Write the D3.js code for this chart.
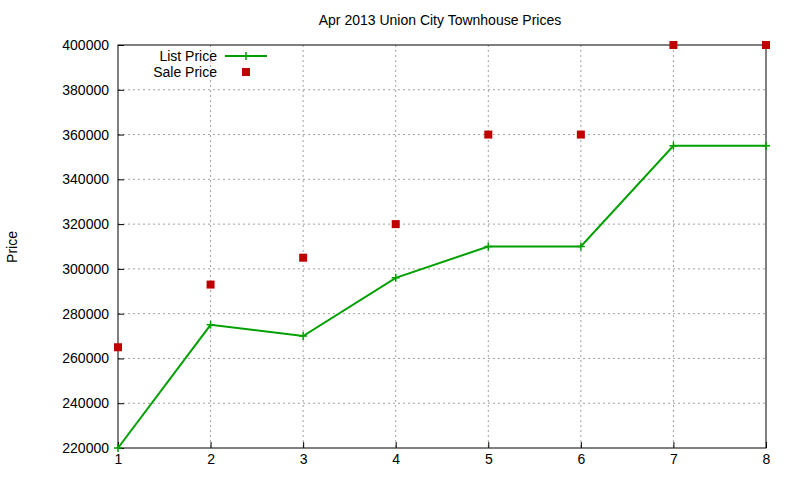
<!DOCTYPE html>
<html>
<head>
<script src="https://d3js.org/d3.v7.min.js"></script>
<style>
body { margin: 0; background: #fff; font-family: "Liberation Sans", Arial, sans-serif; }
</style>
</head>
<body>
<script>
var months = [1, 2, 3, 4, 5, 6, 7, 8];
var listPrice = [220000, 275000, 270000, 296000, 310000, 310000, 355000, 355000];
var salePrice = [265000, 293000, 305000, 320000, 360000, 360000, 400000, 400000];
var yTicks = [220000, 240000, 260000, 280000, 300000, 320000, 340000, 360000, 380000, 400000];

var w = 800, h = 480;
var padL = 118, padR = 766, padT = 45, padB = 448;

var svg = d3.select("body").append("svg").attr("width", w).attr("height", h);

var x = d3.scaleLinear().domain([1, 8]).range([padL, padR]);
var y = d3.scaleLinear().domain([220000, 400000]).range([padB, padT]);

// grid
svg.selectAll(".gx").data(months.slice(1, -1)).enter().append("line")
	.attr("x1", d => x(d)).attr("x2", d => x(d)).attr("y1", padT).attr("y2", padB)
	.attr("stroke", "#a0a0a0").attr("stroke-dasharray", "2,3");
svg.selectAll(".gy").data(yTicks.slice(1, -1)).enter().append("line")
	.attr("x1", padL).attr("x2", padR).attr("y1", d => y(d)).attr("y2", d => y(d))
	.attr("stroke", "#a0a0a0").attr("stroke-dasharray", "2,3");

// axes
var xAxis = d3.axisBottom(x).tickValues(months).tickFormat(d3.format("d")).tickSize(-6).tickSizeOuter(0);
var yAxis = d3.axisLeft(y).tickValues(yTicks).tickFormat(d3.format("d")).tickSize(-6).tickSizeOuter(0);
var gx = svg.append("g").attr("transform", "translate(0," + padB + ")").call(xAxis);
var gy = svg.append("g").attr("transform", "translate(" + padL + ",0)").call(yAxis);
[gx, gy].forEach(function(g) {
	g.select(".domain").remove();
	g.selectAll("line").attr("stroke", "#000");
	g.selectAll("text").attr("font-size", 14).attr("font-family", "Liberation Sans, Arial, sans-serif").attr("fill", "#000");
});
gx.selectAll("text").attr("y", 6).attr("dy", "0.71em");
gy.selectAll("text").attr("x", -9);

svg.append("rect").attr("x", padL).attr("y", padT).attr("width", padR - padL).attr("height", padB - padT)
	.attr("fill", "none").attr("stroke", "#000");

// list line
var line = d3.line().x((d, i) => x(months[i])).y(d => y(d));
svg.append("path").datum(listPrice).attr("d", line).attr("fill", "none").attr("stroke", "#00a000").attr("stroke-width", 2);
function plus(g, cx, cy) {
	g.append("path").attr("d", "M" + (cx - 4) + "," + cy + "h8M" + cx + "," + (cy - 4) + "v8")
		.attr("stroke", "#00a000").attr("stroke-width", 1.5);
}
listPrice.forEach((d, i) => plus(svg, x(months[i]), y(d)));

svg.selectAll(".sale").data(salePrice).enter().append("rect")
	.attr("x", (d, i) => x(months[i]) - 4).attr("y", d => y(d) - 4)
	.attr("width", 8).attr("height", 8).attr("fill", "#c00000");

// legend
svg.append("text").attr("x", 217).attr("y", 61).attr("text-anchor", "end").attr("font-size", 14).text("List Price");
svg.append("line").attr("x1", 225).attr("x2", 267).attr("y1", 56).attr("y2", 56).attr("stroke", "#00a000").attr("stroke-width", 2);
plus(svg, 246, 56);
svg.append("text").attr("x", 217).attr("y", 77).attr("text-anchor", "end").attr("font-size", 14).text("Sale Price");
svg.append("rect").attr("x", 242).attr("y", 68).attr("width", 8).attr("height", 8).attr("fill", "#c00000");

// title & label
svg.append("text").attr("x", 440).attr("y", 25).attr("text-anchor", "middle").attr("font-size", 14).text("Apr 2013 Union City Townhouse Prices");
svg.append("text").attr("transform", "translate(17,247) rotate(-90)").attr("text-anchor", "middle").attr("font-size", 14).text("Price");
</script>
</body>
</html>
